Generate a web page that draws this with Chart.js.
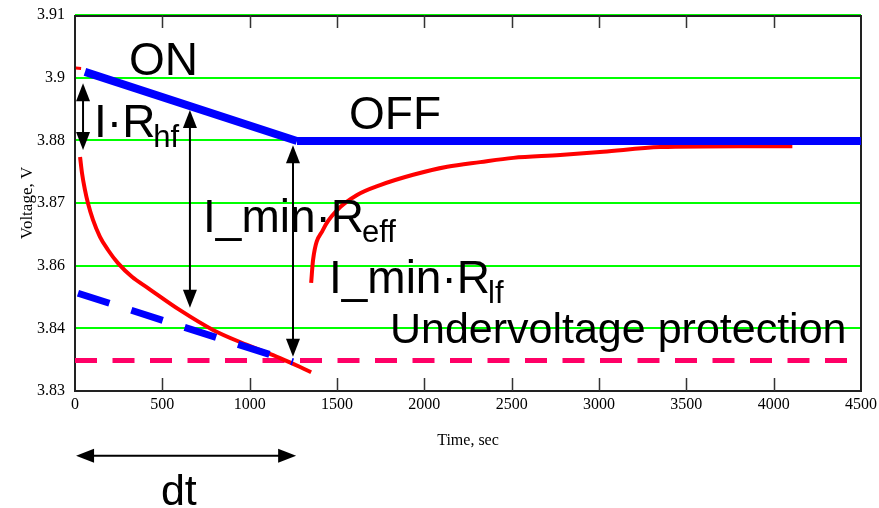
<!DOCTYPE html>
<html>
<head>
<meta charset="utf-8">
<script src="https://cdn.jsdelivr.net/npm/chart.js@4.4.0/dist/chart.umd.min.js"></script>
<style>
html,body{margin:0;padding:0;background:#fff;}
canvas{display:block;}
</style>
</head>
<body>
<canvas id="mychart" width="879" height="508"></canvas>
<script>
// battery voltage, time in sec
const onTime=[57,1271];
const onVolt=[3.8979,3.8832];
const offTime=[1271,4500];
const offVolt=[3.8832,3.8832];
const startTime=[5,35];
const startVolt=[3.8987,3.8986];
const dropTime=[29,40,57,74,103,143,189,246,326,418,601,790,985,1174,1289,1352];
const dropVolt=[3.8798,3.8764,3.8728,3.8700,3.8664,3.8628,3.8600,3.8572,3.8543,3.8519,3.8472,3.8430,3.8398,3.8370,3.8351,3.8340];
const riseTime=[1352,1363,1420,1501,1615,1747,1936,2131,2320,2509,2778,3024,3351,3809,4107];
const riseVolt=[3.8530,3.8579,3.8643,3.8685,3.8717,3.8738,3.8760,3.8777,3.8787,3.8796,3.8802,3.8809,3.8819,3.8821,3.8821];
const fitTime=[17,1248];
const fitVolt=[3.8508,3.8362];
const limitTime=[0,4500];
const limitVolt=[3.8365,3.8365];
const yTickLabels=['3.83','3.84','3.86','3.87','3.88','3.9','3.91'];

// annotations (in axis units)
const arrowSpans=[
    {t1:46,v1:3.8955,t2:46,v2:3.8813},
    {t1:658,v1:3.8898,t2:658,v2:3.8477},
    {t1:1248,v1:3.8823,t2:1248,v2:3.8373},
    {t1:6,v1:3.8162,t2:1266,v2:3.8162}
];
const notes=[
    {text:'ON',sub:'',t:309,v:3.8972},
    {text:'OFF',sub:'',t:1569,v:3.8857},
    {text:'I·R',sub:'hf',t:109,v:3.8840},
    {text:'I_min·R',sub:'eff',t:733,v:3.8638},
    {text:'I_min·R',sub:'lf',t:1454,v:3.8509},
    {text:'Undervoltage protection',sub:'',t:1803,v:3.8402,small:true},
    {text:'dt',sub:'',t:492,v:3.8057,small:true}
];

const pairs=(xs,ys)=>xs.map((x,i)=>({x:x,y:ys[i]}));

const drawArrow=(ctx,x1,y1,x2,y2)=>{
    const ang=Math.atan2(y2-y1,x2-x1);
    const hl=18,hw=7;
    ctx.beginPath();
    ctx.moveTo(x1+Math.cos(ang)*hl*0.8,y1+Math.sin(ang)*hl*0.8);
    ctx.lineTo(x2-Math.cos(ang)*hl*0.8,y2-Math.sin(ang)*hl*0.8);
    ctx.stroke();
    [[x1,y1,ang+Math.PI],[x2,y2,ang]].forEach(([x,y,a])=>{
        ctx.beginPath();
        ctx.moveTo(x,y);
        ctx.lineTo(x-Math.cos(a)*hl-Math.sin(a)*hw,y-Math.sin(a)*hl+Math.cos(a)*hw);
        ctx.lineTo(x-Math.cos(a)*hl+Math.sin(a)*hw,y-Math.sin(a)*hl-Math.cos(a)*hw);
        ctx.closePath();
        ctx.fill();
    });
};

const framePlugin={
    id:'frame',
    beforeDatasetsDraw(chart){
        const {ctx,chartArea:a,scales:{x}}=chart;
        ctx.save();
        ctx.strokeStyle='#222';
        ctx.lineWidth=2;
        ctx.beginPath();
        ctx.moveTo(a.left,a.top+1);ctx.lineTo(a.right,a.top+1);
        ctx.moveTo(a.left,a.top);ctx.lineTo(a.left,a.bottom);
        ctx.lineTo(a.right,a.bottom);ctx.lineTo(a.right,a.top);
        ctx.stroke();
        ctx.lineWidth=1.5;
        ctx.strokeStyle='#333';
        x.ticks.forEach(tk=>{
            if(tk.value<=x.min||tk.value>=x.max)return;
            const px=Math.round(x.getPixelForValue(tk.value))+0.5;
            ctx.beginPath();
            ctx.moveTo(px,a.bottom);ctx.lineTo(px,a.bottom-13);
            ctx.moveTo(px,a.top);ctx.lineTo(px,a.top+13);
            ctx.stroke();
        });
        ctx.restore();
    },
    afterDraw(chart){
        const {ctx,scales:{x,y}}=chart;
        ctx.save();
        ctx.strokeStyle='#000';
        ctx.fillStyle='#000';
        ctx.lineWidth=2;
        arrowSpans.forEach(s=>{
            drawArrow(ctx,x.getPixelForValue(s.t1),y.getPixelForValue(s.v1),
                x.getPixelForValue(s.t2),y.getPixelForValue(s.v2));
        });
        ctx.textBaseline='alphabetic';
        ctx.textAlign='left';
        notes.forEach(n=>{
            const px=x.getPixelForValue(n.t),py=y.getPixelForValue(n.v);
            ctx.font=(n.small?'43px':'46px')+' "Liberation Sans", Arial, sans-serif';
            ctx.fillText(n.text,px,py);
            if(n.sub){
                const w=ctx.measureText(n.text).width;
                ctx.font='31px "Liberation Sans", Arial, sans-serif';
                ctx.fillText(n.sub,px+w-2,py+10);
            }
        });
        ctx.restore();
    }
};

const serif='"Liberation Serif", "Times New Roman", serif';
const ctx=document.getElementById('mychart').getContext('2d');
let mychart=new Chart(ctx,{
    type:'line',
    data:{
        datasets:[
            {data:pairs(onTime,onVolt),borderColor:'#0000ff',borderWidth:8,borderCapStyle:'butt'},
            {data:pairs(offTime,offVolt),borderColor:'#0000ff',borderWidth:8,borderCapStyle:'butt'},
            {data:pairs(fitTime,fitVolt),borderColor:'#0000ff',borderWidth:7,borderDash:[33,23],borderCapStyle:'butt'},
            {data:pairs(startTime,startVolt),borderColor:'#ff0000',borderWidth:3},
            {data:pairs(dropTime,dropVolt),borderColor:'#ff0000',borderWidth:4,cubicInterpolationMode:'monotone'},
            {data:pairs(riseTime,riseVolt),borderColor:'#ff0000',borderWidth:4,cubicInterpolationMode:'monotone'},
            {data:pairs(limitTime,limitVolt),borderColor:'#ff0066',borderWidth:5,borderDash:[22,15.5],borderCapStyle:'butt'}
        ]
    },
    options:{
        responsive:false,
        animation:false,
        events:[],
        layout:{padding:{top:15,right:18,left:0,bottom:0}},
        elements:{point:{radius:0}},
        plugins:{legend:{display:false},tooltip:{enabled:false}},
        scales:{
            x:{
                type:'linear',min:0,max:4500,
                ticks:{stepSize:500,color:'#000',padding:4,maxRotation:0,
                    font:{family:serif,size:16},
                    callback:v=>String(v)},
                grid:{display:false,drawTicks:false},
                border:{display:false},
                title:{display:true,text:'Time, sec',color:'#000',
                    font:{family:serif,size:16},
                    padding:{top:0,bottom:58}},
                afterFit(s){s.height=117;s.paddingLeft=0;s.paddingRight=0;}
            },
            y:{
                min:3.83,max:3.91,
                ticks:{count:7,color:'#000',padding:10,
                    font:{family:serif,size:16},
                    callback:(v,i)=>yTickLabels[i]},
                grid:{color:'#00ff00',lineWidth:2,drawTicks:false},
                border:{display:false},
                title:{display:true,text:'Voltage, V',color:'#000',
                    font:{family:serif,size:17},
                    padding:{top:17,bottom:0}},
                afterFit(s){s.width=75;s.paddingTop=0;s.paddingBottom=0;}
            }
        }
    },
    plugins:[framePlugin]
});
</script>
</body>
</html>
